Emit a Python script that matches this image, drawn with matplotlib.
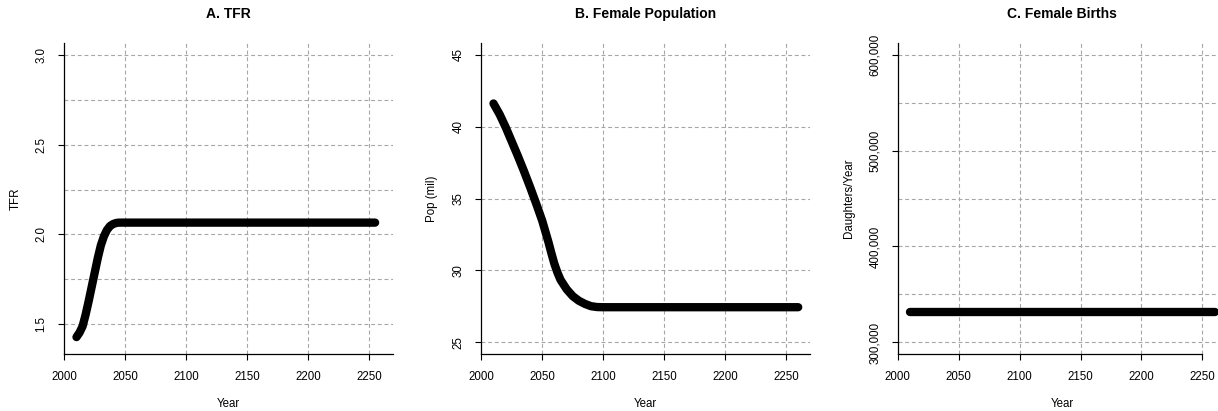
import matplotlib
matplotlib.use("Agg")
import matplotlib.pyplot as plt
from matplotlib.ticker import FixedLocator, FuncFormatter

plt.rcParams["font.family"] = ["Liberation Sans", "DejaVu Sans"]

# A. TFR
tfr_years = [2010, 2012.5, 2015, 2017.5, 2020, 2022.5, 2025, 2027.5, 2030, 2032.5,
             2035, 2037.5, 2040, 2042.5, 2045, 2050, 2255]
tfr_values = [1.43, 1.455, 1.49, 1.555, 1.63, 1.71, 1.79, 1.87, 1.94, 1.99,
              2.025, 2.047, 2.058, 2.064, 2.066, 2.066, 2.066]

# B. Female population (millions)
pop_years = [2010, 2015, 2020, 2025, 2030, 2035, 2040, 2045, 2050, 2055, 2057.5,
             2060, 2062.5, 2065, 2070, 2075, 2080, 2085, 2090, 2095, 2100, 2260]
pop_values = [41.6, 40.85, 39.95, 38.95, 37.95, 36.9, 35.8, 34.65, 33.45, 32.0, 31.2,
              30.45, 29.85, 29.35, 28.7, 28.22, 27.9, 27.68, 27.52, 27.46, 27.45, 27.45]

# C. Female births (daughters per year)
births_years = [2010, 2260]
births_values = [332000, 332000]

x_ticks = [2000, 2050, 2100, 2150, 2200, 2250]

panels = [
    dict(title="A. TFR", ylabel="TFR", x=tfr_years, y=tfr_values,
         ylim=(1.4, 3.0), yticks=[1.5, 2.0, 2.5, 3.0],
         ygrid=[1.5, 1.75, 2.0, 2.25, 2.5, 2.75, 3.0],
         fmt=lambda v, p: f"{v:.1f}", left=64.3),
    dict(title="B. Female Population", ylabel="Pop (mil)", x=pop_years, y=pop_values,
         ylim=(25, 45), yticks=[25, 30, 35, 40, 45],
         ygrid=[25, 30, 35, 40, 45],
         fmt=lambda v, p: f"{v:.0f}", left=481.3),
    dict(title="C. Female Births", ylabel="Daughters/Year", x=births_years, y=births_values,
         ylim=(300000, 600000), yticks=[300000, 400000, 500000, 600000],
         ygrid=[300000, 350000, 400000, 450000, 500000, 550000, 600000],
         fmt=lambda v, p: f"{v:,.0f}", left=897.7),
]

W, H = 1218, 411
fig = plt.figure(figsize=(W / 100, H / 100), dpi=100)

grid_kw = dict(color="#a6a6a6", linewidth=0.8, linestyle=(0, (3.5, 2.5)))

for i, pn in enumerate(panels):
    ax = fig.add_axes([pn["left"] / W, 1 - 354 / H, 329.1 / W, 311 / H])
    ax.plot(pn["x"], pn["y"], color="black", linewidth=6,
            solid_capstyle="round", solid_joinstyle="round", zorder=3)

    lo, hi = pn["ylim"]
    pad = (hi - lo) * 0.04
    ax.set_ylim(lo - pad, hi + pad)
    ax.set_xlim(2000, 2270)

    ax.xaxis.set_major_locator(FixedLocator(x_ticks))
    ax.yaxis.set_major_locator(FixedLocator(pn["yticks"]))
    ax.yaxis.set_major_formatter(FuncFormatter(pn["fmt"]))

    for gx in x_ticks[1:]:
        ax.axvline(gx, zorder=1, **grid_kw)
    for gy in pn["ygrid"]:
        ax.axhline(gy, zorder=1, **grid_kw)

    for side in ("top", "right"):
        ax.spines[side].set_visible(False)
    for side in ("left", "bottom"):
        ax.spines[side].set_linewidth(0.9)
    if i == 2:
        ax.spines["bottom"].set_bounds(2000, 2250)

    ax.tick_params(axis="both", length=4, width=0.8, pad=8, labelsize=8.3)
    plt.setp(ax.get_yticklabels(), rotation=90, va="center")

    ax.set_xlabel("Year", fontsize=8.3, va="center")
    ax.xaxis.set_label_coords(0.5, -0.161)
    ax.set_ylabel(pn["ylabel"], fontsize=8.3, va="center")
    ax.yaxis.set_label_coords(-0.149, 0.5)

    ax.text(0.5, 1.093, pn["title"], transform=ax.transAxes, ha="center",
            va="center", fontsize=10, fontweight="bold")

fig.savefig("out.png", dpi=100)
